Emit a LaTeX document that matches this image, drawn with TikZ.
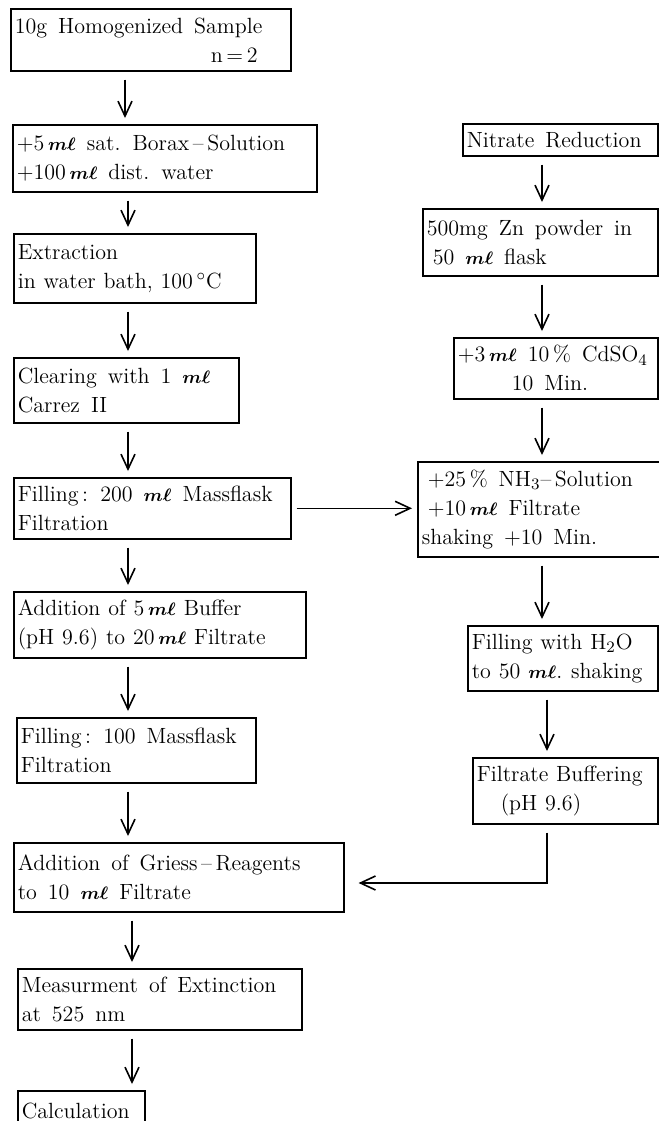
\documentclass[tikz,border=0pt]{standalone}
\usepackage{amsmath}
\usetikzlibrary{arrows.meta}
\newcommand{\mlu}{{\fontsize{9.5}{10}\selectfont$\boldsymbol{m\ell}$}}
\newcommand{\widesp}{\spaceskip 0.5em plus 0.1em minus 0.05em\xspaceskip 0.55em plus 0.1em\relax}
\newcommand{\tightsp}{\spaceskip 0.36em plus 0.05em minus 0.05em\xspaceskip 0.4em\relax}
\begin{document}
\begin{tikzpicture}[x=0.5pt,y=-0.5pt,
  box/.style={draw,line width=0.8pt,anchor=north west,inner xsep=2pt,inner ysep=1.5pt,
    align=left,font=\fontsize{11}{14.5}\selectfont,execute at begin node=\widesp},
  tight/.style={execute at begin node=\tightsp},
  arr/.style={line width=0.8pt,-{Straight Barb[length=7.5pt,width=7pt,line width=0.8pt]},
    shorten <=4pt,shorten >=3pt}]
\clip (0,0) rectangle (659,1121);
% left column
\node[box,text width=136pt,minimum height=31pt] (A) at (10,8)
  {10g Homogenized Sample\\\hspace*{98pt}n\,=\,2};
\node[box,text width=148pt,minimum height=33.5pt] (B) at (12,124)
  {+5\,\mlu\ sat. Borax\,--\,Solution\\+100\,\mlu\ dist. water};
\node[box,tight,text width=117pt,minimum height=34.5pt] (C) at (13,233)
  {Extraction\\in water bath, 100\,$^\circ$C};
\node[box,text width=108.5pt,minimum height=32.5pt] (D) at (13,357)
  {Clearing with 1 \mlu\\Carrez II};
\node[box,text width=134.5pt,minimum height=30.5pt] (E) at (13,477)
  {Filling\,: 200 \mlu\ Massflask\\Filtration};
\node[box,tight,text width=142pt,minimum height=33pt] (F) at (13,591)
  {Addition of 5\,\mlu\ Buffer\\(pH 9.6) to 20\,\mlu\ Filtrate};
\node[box,text width=115.5pt,minimum height=32.5pt] (G) at (16,717)
  {Filling\,: 100 Massflask\\Filtration};
\node[box,text width=161pt,minimum height=34.5pt] (H) at (13,842)
  {Addition of Griess\,--\,Reagents\\to 10 \mlu\ Filtrate};
\node[box,text width=138pt,minimum height=30.5pt] (I) at (17,968)
  {Measurment of Extinction\\at 525 nm};
\node[box,text width=59.5pt,minimum height=20pt] (J) at (17,1090)
  {Calculation};
% right column
\node[box,text width=93.5pt,minimum height=16pt] (R1) at (462,123)
  {Nitrate Reduction};
\node[box,text width=113.5pt,minimum height=33.5pt] (R2) at (422,208)
  {500mg Zn powder in\\\hspace*{3pt}50 \mlu\ flask};
\node[box,text width=98pt,minimum height=30.5pt] (R3) at (453,337)
  {+3\,\mlu\ 10\,\% CdSO$_4$\\\hspace*{27pt}10 Min.};
\node[box,text width=117pt,minimum height=47.5pt] (R4) at (417,461)
  {\hspace*{3pt}+25\,\% NH$_3$--\,Solution\\\hspace*{3pt}+10\,\mlu\ Filtrate\\shaking +10 Min.};
\node[box,tight,text width=91pt,minimum height=32.5pt] (R5) at (467,625)
  {Filling with H$_2$O\\to 50 \mlu. shaking};
\node[box,tight,text width=88.5pt,minimum height=33pt] (R6) at (472,757)
  {Filtrate Buffering\\\hspace*{12pt}(pH 9.6)};
% arrow columns
\coordinate (xa) at (125,0);
\coordinate (xb) at (128,0);
\coordinate (xc) at (132,0);
\coordinate (xr) at (542,0);
\coordinate (xs) at (547,0);
\coordinate (turn) at (547,883);
% left arrows
\draw[arr] (A.south -| xa) -- (B.north -| xa);
\draw[arr] (B.south -| xb) -- (C.north -| xb);
\draw[arr] (C.south -| xb) -- (D.north -| xb);
\draw[arr] (D.south -| xb) -- (E.north -| xb);
\draw[arr] (E.south -| xb) -- (F.north -| xb);
\draw[arr] (F.south -| xb) -- (G.north -| xb);
\draw[arr] (G.south -| xb) -- (H.north -| xb);
\draw[arr] (H.south -| xc) -- (I.north -| xc);
\draw[arr] (I.south -| xc) -- (J.north -| xc);
% right arrows
\draw[arr] (R1.south -| xr) -- (R2.north -| xr);
\draw[arr] (R2.south -| xr) -- (R3.north -| xr);
\draw[arr] (R3.south -| xr) -- (R4.north -| xr);
\draw[arr] (R4.south -| xr) -- (R5.north -| xr);
\draw[arr] (R5.south -| xs) -- (R6.north -| xs);
% cross connections
\draw[arr,shorten <=2.5pt,shorten >=2.5pt] (E.east) -- (E.east -| R4.west);
\draw[arr,shorten >=7pt] (R6.south -| turn) -- (turn) -- (turn -| H.east);
\end{tikzpicture}
\end{document}
